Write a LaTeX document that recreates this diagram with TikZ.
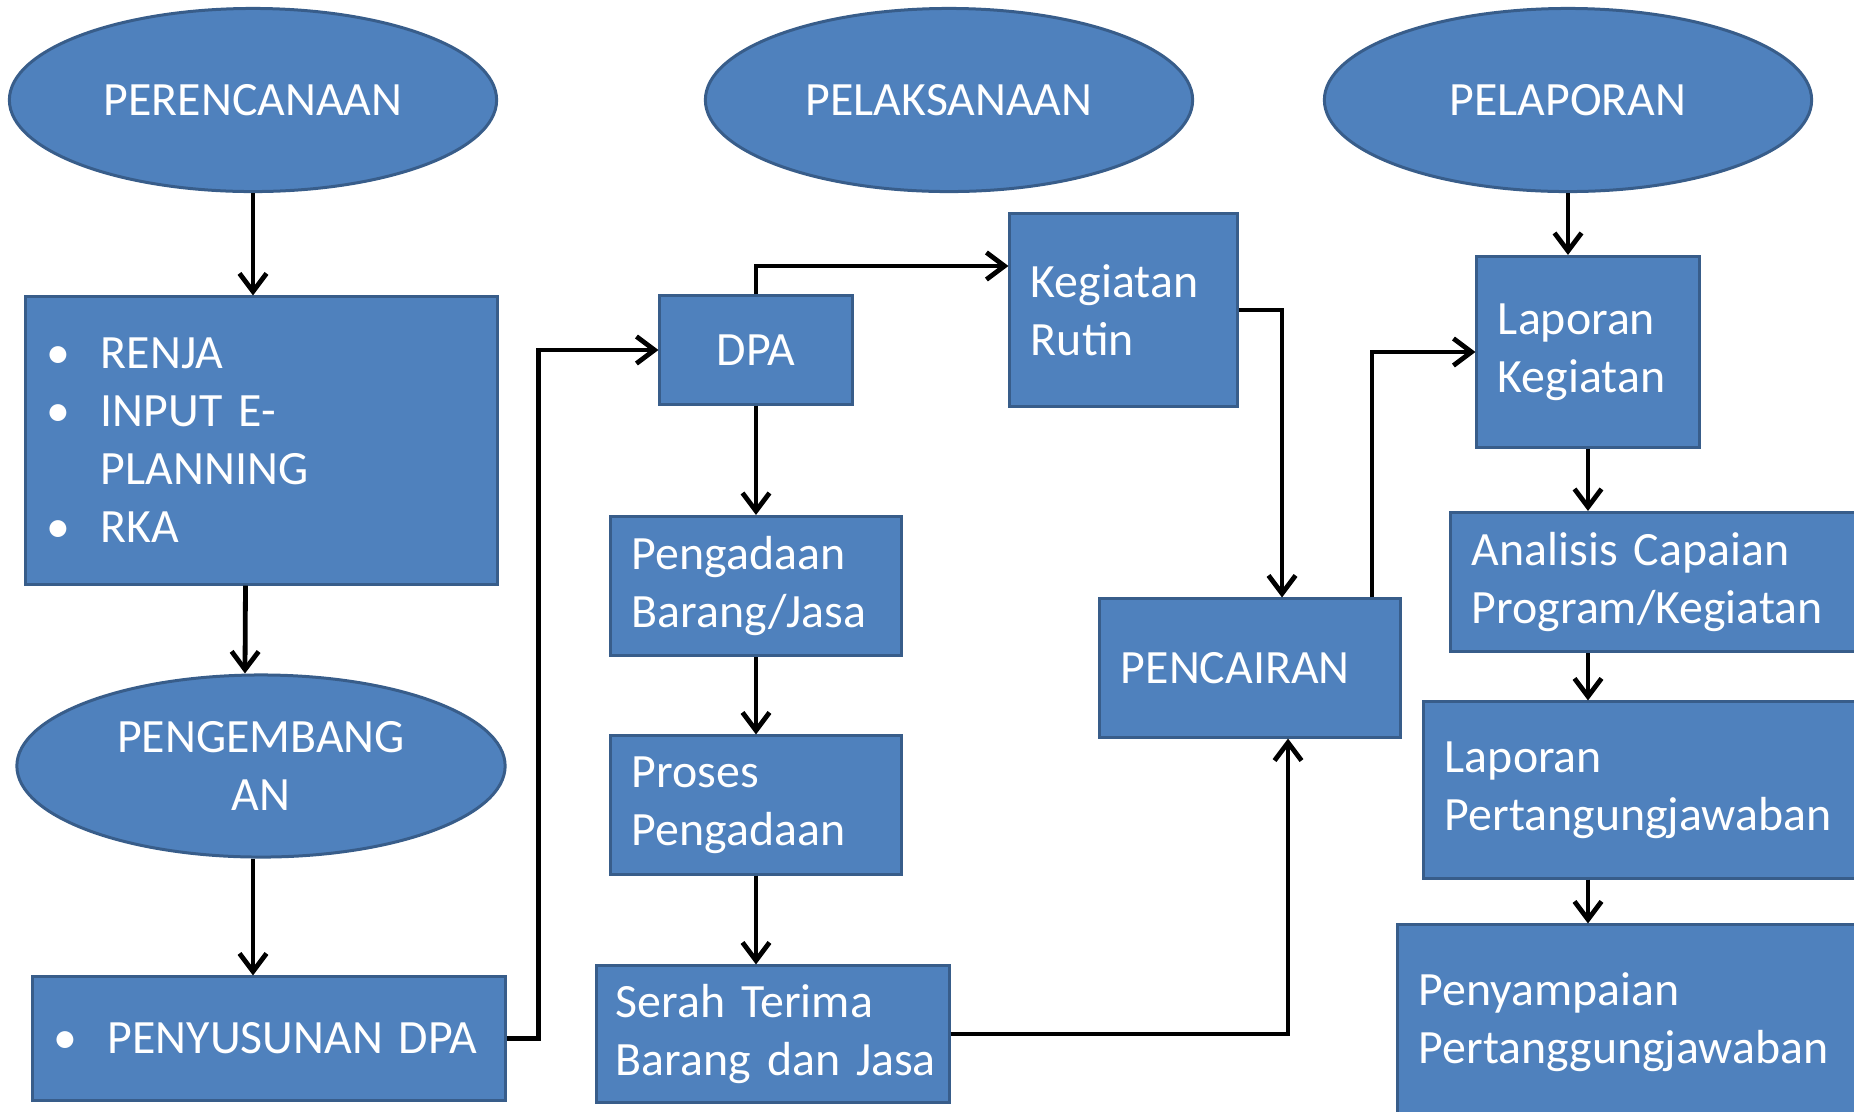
\documentclass[tikz,border=0pt]{standalone}
\usepackage{fontspec}
\setmainfont{Carlito}
\usepackage{tikz}
\usetikzlibrary{arrows.meta,shapes}

\definecolor{boxblue}{HTML}{4F81BD}
\definecolor{boxline}{HTML}{385D8A}

\newcommand{\bul}{\makebox[0.54cm][l]{\textbullet}}

\begin{document}
\begin{tikzpicture}[x=0.01cm,y=-0.01cm,->,>={Straight Barb[length=0.18cm,width=0.27cm]},
                    line width=0.048cm,font=\fontsize{13.6pt}{16.5pt}\selectfont]
  \tikzstyle{phase}=[ellipse,fill=boxblue,draw=boxline,line width=0.03cm,text=white,
                     align=center,inner sep=0pt,minimum width=4.87cm,minimum height=1.83cm]
  \tikzstyle{stage}=[rectangle,fill=boxblue,draw=boxline,line width=0.03cm,text=white,
                     align=left,inner xsep=0.21cm,inner ysep=0pt]
  \useasboundingbox (0,0) rectangle (1854,1111);

  % three phases
  \node[phase] (perencanaan) at (253,100)  {PERENCANAAN};
  \node[phase] (pelaksanaan) at (949,100)  {PELAKSANAAN};
  \node[phase] (pelaporan)   at (1568,100) {PELAPORAN};

  % perencanaan column
  \node[stage,text width=4.29cm,minimum height=2.87cm] (renja) at (261.5,440.5)
    {\bul RENJA\\ \bul INPUT E-\\ \hspace*{0.54cm}PLANNING\\ \bul RKA};
  \node[phase,minimum width=4.88cm,minimum height=1.82cm] (pengembangan) at (261,766)
    {PENGEMBANG\\AN};
  \node[stage,text width=4.30cm,minimum height=1.23cm] (penyusunan) at (269,1038.5)
    {\bul PENYUSUNAN DPA};

  % pelaksanaan column
  \node[stage,text width=1.50cm,minimum height=1.08cm,align=center] (dpa) at (756,350) {DPA};
  \node[stage,text width=1.85cm,minimum height=1.92cm] (kegiatan) at (1123.5,310)
    {Kegiatan\\Rutin};
  \node[stage,text width=2.48cm,minimum height=1.39cm] (pengadaan) at (756,586)
    {Pengadaan\\Barang/Jasa};
  \node[stage,text width=2.48cm,minimum height=1.38cm] (proses) at (756,805)
    {Proses\\Pengadaan};
  \node[stage,text width=3.14cm,inner xsep=0.19cm,minimum height=1.36cm] (serah) at (773,1034)
    {Serah Terima\\\mbox{Barang dan Jasa}};
  \node[stage,text width=2.58cm,minimum height=1.38cm] (pencairan) at (1250,668)
    {PENCAIRAN};

  % pelaporan column
  \node[stage,text width=1.80cm,minimum height=1.91cm] (lapkeg) at (1588,352)
    {Laporan\\Kegiatan};
  \node[stage,text width=3.62cm,minimum height=1.39cm] (analisis) at (1653,582)
    {Analisis Capaian\\Program/Kegiatan};
  \node[stage,text width=3.89cm,minimum height=1.76cm] (lappert) at (1639.5,790)
    {Laporan\\Pertangungjawaban};
  \node[stage,text width=4.15cm,minimum height=1.94cm] (penyampaian) at (1626.5,1022)
    {Penyampaian\\Pertanggungjawaban};

  % connectors
  \draw (perencanaan) -- (perencanaan |- renja.north);
  \draw ([xshift=-0.16cm]renja.south) -- ([xshift=-0.16cm]pengembangan.north);
  \draw (pengembangan.south -| perencanaan) -- (penyusunan.north -| perencanaan);
  \draw (penyusunan.east) -| ([xshift=-1.2cm]dpa.west) -- (dpa.west);
  \draw (dpa.north) |- ([yshift=0.44cm]kegiatan.west);
  \draw (dpa) -- (pengadaan);
  \draw (pengadaan) -- (proses);
  \draw (proses) -- (proses |- serah.north);
  \draw (kegiatan.east) -| ([xshift=0.32cm]pencairan.north);
  \draw (serah.east) -| ([xshift=0.38cm]pencairan.south);
  \draw ([xshift=1.22cm]pencairan.north) |- (lapkeg.west);
  \draw (pelaporan) -- (pelaporan |- lapkeg.north);
  \draw (lapkeg) -- (lapkeg |- analisis.north);
  \draw (analisis.south -| lapkeg) -- (lappert.north -| lapkeg);
  \draw (lappert.south -| lapkeg) -- (penyampaian.north -| lapkeg);
\end{tikzpicture}
\end{document}
